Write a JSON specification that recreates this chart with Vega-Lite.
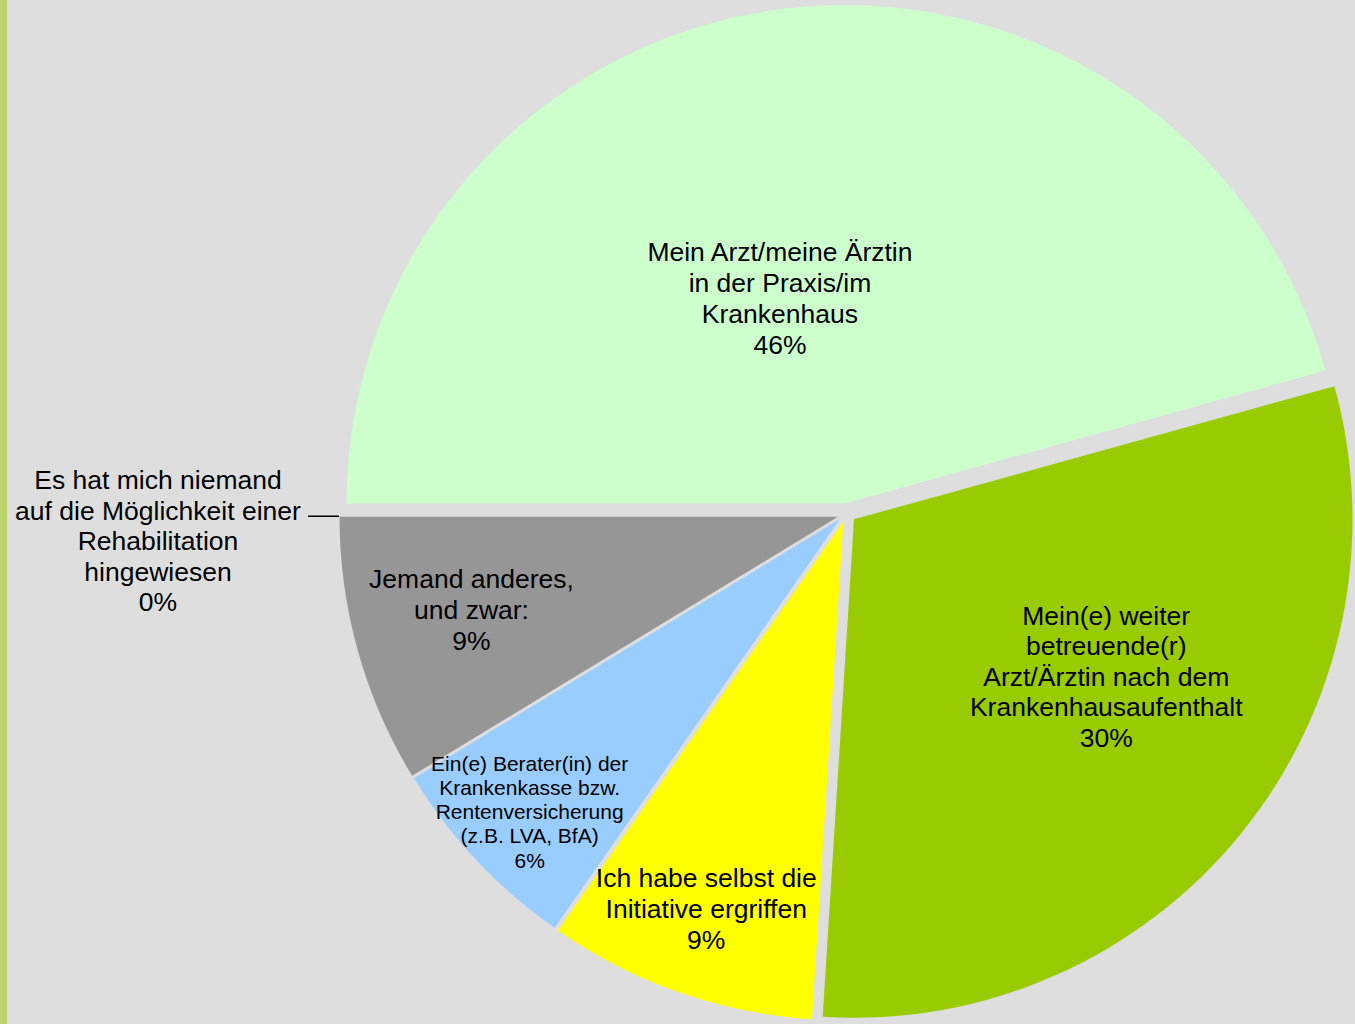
{
  "$schema": "https://vega.github.io/schema/vega-lite/v6.json",
  "autosize": {"type": "none"},
  "width": 1676,
  "height": 1030,
  "padding": {"left": 7, "top": 0, "right": -328, "bottom": -6},
  "background": "#bdd66b",
  "view": {"fill": "#dedede", "stroke": null},
  "config": {"view": {"fill": "#dedede", "stroke": null}},
  "data": {
    "values": [
      {"order": 1, "category": "Mein Arzt/meine Ärztin in der Praxis/im Krankenhaus", "value": 45.7, "label": "Mein Arzt/meine Ärztin\nin der Praxis/im\nKrankenhaus\n46%"},
      {"order": 2, "category": "Mein(e) weiter betreuende(r) Arzt/Ärztin nach dem Krankenhausaufenthalt", "value": 30.3, "label": "Mein(e) weiter\nbetreuende(r)\nArzt/Ärztin nach dem\nKrankenhausaufenthalt\n30%"},
      {"order": 3, "category": "Ich habe selbst die Initiative ergriffen", "value": 8.7, "label": "Ich habe selbst die\nInitiative ergriffen\n9%"},
      {"order": 4, "category": "Ein(e) Berater(in) der Krankenkasse bzw. Rentenversicherung (z.B. LVA, BfA)", "value": 6.6, "label": "Ein(e) Berater(in) der\nKrankenkasse bzw.\nRentenversicherung\n(z.B. LVA, BfA)\n6%"},
      {"order": 5, "category": "Jemand anderes, und zwar:", "value": 8.7, "label": "Jemand anderes,\nund zwar:\n9%"},
      {"order": 6, "category": "Es hat mich niemand auf die Möglichkeit einer Rehabilitation hingewiesen", "value": 0, "label": "Es hat mich niemand\nauf die Möglichkeit einer\nRehabilitation\nhingewiesen\n0%"}
    ]
  },
  "transform": [
    {"window": [{"op": "sum", "field": "value", "as": "cum"}], "sort": [{"field": "order", "order": "ascending"}], "frame": [null, 0]},
    {"calculate": "datum.cum - datum.value", "as": "start"},
    {"calculate": "datum.cum - datum.value / 2", "as": "mid"}
  ],
  "encoding": {
    "color": {
      "field": "category",
      "type": "nominal",
      "legend": null,
      "scale": {
        "domain": [
          "Mein Arzt/meine Ärztin in der Praxis/im Krankenhaus",
          "Mein(e) weiter betreuende(r) Arzt/Ärztin nach dem Krankenhausaufenthalt",
          "Ich habe selbst die Initiative ergriffen",
          "Ein(e) Berater(in) der Krankenkasse bzw. Rentenversicherung (z.B. LVA, BfA)",
          "Jemand anderes, und zwar:",
          "Es hat mich niemand auf die Möglichkeit einer Rehabilitation hingewiesen"
        ],
        "range": ["#ccffcc", "#99cc00", "#ffff00", "#99ccff", "#969696", "#ff99cc"]
      }
    }
  },
  "layer": [
    {
      "transform": [{"filter": "datum.order == 1"}],
      "mark": {"type": "arc", "radius": 498.5, "xOffset": 0, "yOffset": -11.5},
      "encoding": {
        "theta": {"field": "start", "type": "quantitative", "scale": {"domain": [0, 100], "range": [4.71238898, 10.99557429]}},
        "theta2": {"field": "cum"}
      }
    },
    {
      "transform": [{"filter": "datum.order == 2"}],
      "mark": {"type": "arc", "radius": 498.5, "xOffset": 9, "yOffset": 4.3},
      "encoding": {
        "theta": {"field": "start", "type": "quantitative"},
        "theta2": {"field": "cum"}
      }
    },
    {
      "transform": [{"filter": "datum.order == 3"}],
      "mark": {"type": "arc", "radius": 498.5, "xOffset": -1.7, "yOffset": 6.7},
      "encoding": {
        "theta": {"field": "start", "type": "quantitative"},
        "theta2": {"field": "cum"}
      }
    },
    {
      "transform": [{"filter": "datum.order == 4"}],
      "mark": {"type": "arc", "radius": 498.5, "xOffset": -5, "yOffset": 4},
      "encoding": {
        "theta": {"field": "start", "type": "quantitative"},
        "theta2": {"field": "cum"}
      }
    },
    {
      "transform": [{"filter": "datum.order == 5"}],
      "mark": {"type": "arc", "radius": 498.5, "xOffset": -7, "yOffset": 1.7},
      "encoding": {
        "theta": {"field": "start", "type": "quantitative"},
        "theta2": {"field": "cum"}
      }
    },
    {
      "transform": [{"filter": "datum.order == 6"}],
      "mark": {"type": "arc", "radius": 530, "radius2": 499, "filled": false, "stroke": "#000000", "strokeWidth": 1.5, "xOffset": -7, "yOffset": 1.2},
      "encoding": {
        "theta": {"field": "start", "type": "quantitative"},
        "theta2": {"field": "cum"},
        "color": {"value": "#000000"}
      }
    },
    {
      "transform": [{"filter": "datum.order == 1"}],
      "mark": {"type": "text", "radius": 223.3, "dx": -35, "dy": -41, "font": "Liberation Sans", "fontSize": 26.5, "lineHeight": 31, "lineBreak": "\n", "align": "center", "baseline": "middle"},
      "encoding": {
        "theta": {"field": "mid", "type": "quantitative", "stack": null},
        "text": {"field": "label"},
        "color": {"value": "#000000"}
      }
    },
    {
      "transform": [{"filter": "datum.order == 2"}],
      "mark": {"type": "text", "radius": 305.5, "dx": 24, "dy": -91, "font": "Liberation Sans", "fontSize": 26.5, "lineHeight": 30.5, "lineBreak": "\n", "align": "center", "baseline": "middle"},
      "encoding": {
        "theta": {"field": "mid", "type": "quantitative", "stack": null},
        "text": {"field": "label"},
        "color": {"value": "#000000"}
      }
    },
    {
      "transform": [{"filter": "datum.order == 3"}],
      "mark": {"type": "text", "radius": 417.6, "dx": -1, "dy": -30.6, "font": "Liberation Sans", "fontSize": 26.5, "lineHeight": 31, "lineBreak": "\n", "align": "center", "baseline": "middle"},
      "encoding": {
        "theta": {"field": "mid", "type": "quantitative", "stack": null},
        "text": {"field": "label"},
        "color": {"value": "#000000"}
      }
    },
    {
      "transform": [{"filter": "datum.order == 4"}],
      "mark": {"type": "text", "radius": 432.6, "dx": 0, "dy": -46.6, "font": "Liberation Sans", "fontSize": 21, "lineHeight": 24.25, "lineBreak": "\n", "align": "center", "baseline": "middle"},
      "encoding": {
        "theta": {"field": "mid", "type": "quantitative", "stack": null},
        "text": {"field": "label"},
        "color": {"value": "#000000"}
      }
    },
    {
      "transform": [{"filter": "datum.order == 5"}],
      "mark": {"type": "text", "radius": 385.3, "dx": -2.5, "dy": -39, "font": "Liberation Sans", "fontSize": 26.5, "lineHeight": 31, "lineBreak": "\n", "align": "center", "baseline": "middle"},
      "encoding": {
        "theta": {"field": "mid", "type": "quantitative", "stack": null},
        "text": {"field": "label"},
        "color": {"value": "#000000"}
      }
    },
    {
      "transform": [{"filter": "datum.order == 6"}],
      "mark": {"type": "text", "radius": 687, "dx": 0, "dy": -34, "font": "Liberation Sans", "fontSize": 26.5, "lineHeight": 30.5, "lineBreak": "\n", "align": "center", "baseline": "middle"},
      "encoding": {
        "theta": {"field": "mid", "type": "quantitative", "stack": null},
        "text": {"field": "label"},
        "color": {"value": "#000000"}
      }
    }
  ]
}
